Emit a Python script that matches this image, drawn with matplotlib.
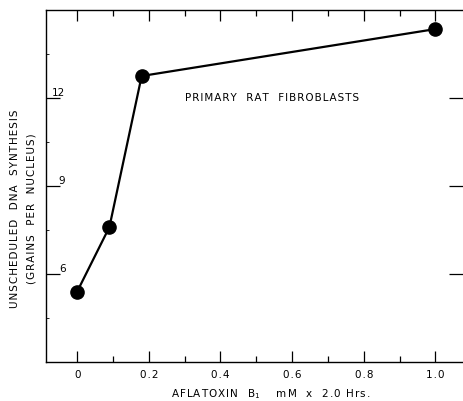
import numpy as np
import matplotlib
matplotlib.use('Agg')
import matplotlib.pyplot as plt
from matplotlib.ticker import MultipleLocator

# dose (mM x 2.0 hrs) vs grains per nucleus
dose = [0.0, 0.09, 0.18, 1.0]
grains = [5.4, 7.6, 12.75, 14.35]

xticks = [0, 0.2, 0.4, 0.6, 0.8, 1.0]
xticklabels = ['0', '0.2', '0.4', '0.6', '0.8', '1.0']
yticks = [6, 9, 12]
yticklabels = ['6', '9', '12']


def spaced(s):
    # old typewriter style lettering, a bit wider apart
    return '\u200a'.join(s)


plt.rcParams['font.family'] = ['DejaVu Sans']
fig = plt.figure(figsize=(4.63, 4.01), dpi=100)
ax = fig.add_axes([46/463, 39/401, 417/463, 352/401])

ax.plot(dose, grains, color='black', lw=1.6, marker='o', ms=9.5,
        markerfacecolor='black', markeredgecolor='black', zorder=3)

ax.set_xlim(-0.087, 1.077)
ax.set_ylim(3, 15)

ax.set_xticks(xticks)
ax.set_xticklabels([spaced(t) for t in xticklabels], fontsize=7.5)
ax.xaxis.set_minor_locator(MultipleLocator(0.1))
ax.set_yticks(yticks)
ax.set_yticklabels(yticklabels, fontsize=7.5)
ax.yaxis.set_minor_locator(MultipleLocator(1.5))

ax.tick_params(axis='x', which='major', direction='in', length=8, width=0.9,
               top=True, pad=6)
ax.tick_params(axis='x', which='minor', direction='in', length=4, width=0.9,
               top=True)
ax.tick_params(axis='y', which='major', direction='in', length=10, width=0.9,
               right=True, pad=-14)
ax.tick_params(axis='y', which='minor', direction='in', length=2, width=0.6,
               right=False)
for lab in ax.get_yticklabels():
    lab.set_verticalalignment('bottom')
    lab.set_horizontalalignment('right')

for s in ['left', 'bottom', 'top']:
    ax.spines[s].set_linewidth(1.0)
ax.spines['right'].set_visible(False)

ax.text(0.545, 12.0, spaced('PRIMARY  RAT  FIBROBLASTS'), fontsize=7.5,
        ha='center', va='center')

ax.set_xlabel(spaced('AFLATOXIN  B') + '$_1$     ' + spaced('mM  x  2.0 Hrs.'),
              fontsize=7.5, va='center')
ax.xaxis.set_label_coords((271 - 46) / 417, -32 / 352)
fig.text(15/463, 1 - 209/401, spaced('UNSCHEDULED  DNA  SYNTHESIS'),
         rotation=90, fontsize=7.5, ha='center', va='center')
fig.text(32/463, 1 - 209/401, spaced('(GRAINS  PER  NUCLEUS)'), rotation=90,
         fontsize=7.5, ha='center', va='center')

fig.savefig('out.png', dpi=100)
